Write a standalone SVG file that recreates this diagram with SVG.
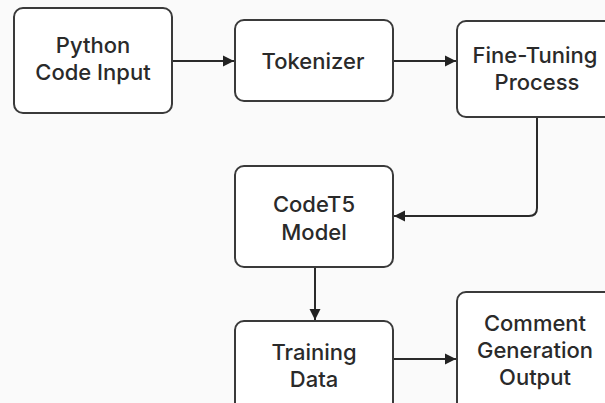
<svg xmlns="http://www.w3.org/2000/svg" width="605" height="403" viewBox="0 0 605 403">
<defs>
<marker id="ah" markerWidth="12" markerHeight="12" refX="11" refY="6" orient="auto" markerUnits="userSpaceOnUse">
<path d="M0,0.5 L11,6 L0,11.5 Z" fill="#222"/>
</marker>
<style>
.box{fill:#fff;stroke:#3a3a3a;stroke-width:2}
.lbl{font-family:Inter,"Liberation Sans",sans-serif;font-size:22px;font-weight:500;fill:#2a2a2a;text-anchor:middle}
.edge{fill:none;stroke:#2a2a2a;stroke-width:2}
</style>
</defs>
<rect width="605" height="403" fill="#fafafa"/>
<g id="connectors">
<path class="edge" d="M172,61 H234" marker-end="url(#ah)"/>
<path class="edge" d="M393,61 H456" marker-end="url(#ah)"/>
<path class="edge" d="M537,117 V208 Q537,216 529,216 H394" marker-end="url(#ah)"/>
<path class="edge" d="M315,267 V320" marker-end="url(#ah)"/>
<path class="edge" d="M393,359 H456" marker-end="url(#ah)"/>
</g>
<g id="python-code-input">
<rect class="box" x="14" y="8" width="158" height="105" rx="9"/>
<text class="lbl" x="93" y="53">Python</text>
<text class="lbl" x="93" y="80">Code Input</text>
</g>
<g id="tokenizer">
<rect class="box" x="235" y="20" width="158" height="81" rx="9"/>
<text class="lbl" x="313" y="69">Tokenizer</text>
</g>
<g id="fine-tuning-process">
<rect class="box" x="457" y="21" width="160" height="96" rx="9"/>
<text class="lbl" x="535" y="63">Fine-Tuning</text>
<text class="lbl" x="537" y="90">Process</text>
</g>
<g id="codet5-model">
<rect class="box" x="235" y="166" width="158" height="101" rx="9"/>
<text class="lbl" x="314" y="212">CodeT5</text>
<text class="lbl" x="314" y="240">Model</text>
</g>
<g id="training-data">
<rect class="box" x="235" y="321" width="158" height="100" rx="9"/>
<text class="lbl" x="314" y="360">Training</text>
<text class="lbl" x="314" y="387">Data</text>
</g>
<g id="comment-generation-output">
<rect class="box" x="457" y="292" width="160" height="130" rx="9"/>
<text class="lbl" x="535" y="331">Comment</text>
<text class="lbl" x="535" y="358">Generation</text>
<text class="lbl" x="535" y="385">Output</text>
</g>
</svg>
